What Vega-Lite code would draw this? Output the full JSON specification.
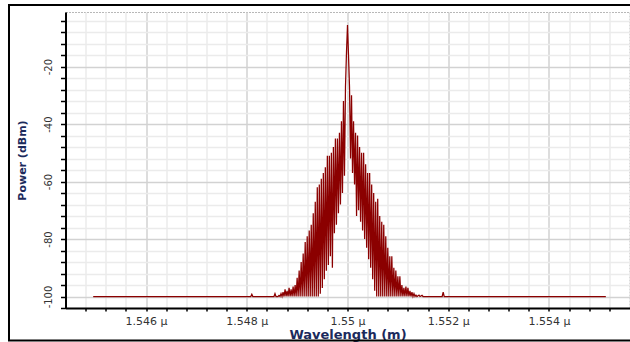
{
  "$schema": "https://vega.github.io/schema/vega-lite/v6.json",
  "width": 564,
  "height": 296,
  "autosize": "none",
  "padding": {"left": 65.5, "top": 12, "right": 0.5, "bottom": 34},
  "background": "white",
  "config": {
    "view": {"stroke": "#b8b8b8", "strokeDash": [2, 1], "strokeWidth": 1},
    "font": "DejaVu Sans"
  },
  "data": {
    "values": [
      {"w": 1.54495, "p": -100}, {"w": 1.54808, "p": -100}, {"w": 1.5481, "p": -99.2}, {"w": 1.54812, "p": -100},
      {"w": 1.54854, "p": -100}, {"w": 1.54856, "p": -99}, {"w": 1.54858, "p": -100},
      {"w": 1.54862, "p": -100}, {"w": 1.54864, "p": -99.6}, {"w": 1.54866, "p": -100},
      {"w": 1.54868, "p": -99}, {"w": 1.5487, "p": -100}, {"w": 1.54872, "p": -98.5}, {"w": 1.54874, "p": -100},
      {"w": 1.54876, "p": -97.5}, {"w": 1.54878, "p": -100}, {"w": 1.5488, "p": -98}, {"w": 1.54882, "p": -100},
      {"w": 1.54884, "p": -97}, {"w": 1.54886, "p": -100}, {"w": 1.54888, "p": -97.5}, {"w": 1.5489, "p": -100},
      {"w": 1.54892, "p": -96.5}, {"w": 1.54894, "p": -100}, {"w": 1.54896, "p": -96}, {"w": 1.54898, "p": -100},
      {"w": 1.549, "p": -93.5}, {"w": 1.54902, "p": -100}, {"w": 1.54904, "p": -91}, {"w": 1.54906, "p": -100},
      {"w": 1.54908, "p": -88}, {"w": 1.5491, "p": -100}, {"w": 1.54912, "p": -85}, {"w": 1.54914, "p": -100},
      {"w": 1.54916, "p": -81}, {"w": 1.54918, "p": -100}, {"w": 1.5492, "p": -79}, {"w": 1.54922, "p": -100},
      {"w": 1.54924, "p": -77}, {"w": 1.54926, "p": -100}, {"w": 1.54928, "p": -75}, {"w": 1.5493, "p": -100},
      {"w": 1.54932, "p": -71}, {"w": 1.54934, "p": -100}, {"w": 1.54936, "p": -67}, {"w": 1.54938, "p": -100},
      {"w": 1.5494, "p": -62}, {"w": 1.54942, "p": -100}, {"w": 1.54944, "p": -61}, {"w": 1.54946, "p": -99},
      {"w": 1.54948, "p": -59}, {"w": 1.5495, "p": -97}, {"w": 1.54952, "p": -57}, {"w": 1.54954, "p": -94},
      {"w": 1.54956, "p": -55}, {"w": 1.54958, "p": -91}, {"w": 1.5496, "p": -51}, {"w": 1.54962, "p": -89},
      {"w": 1.54964, "p": -51}, {"w": 1.54966, "p": -86}, {"w": 1.54968, "p": -50}, {"w": 1.5497, "p": -90},
      {"w": 1.54972, "p": -48}, {"w": 1.54974, "p": -78}, {"w": 1.54976, "p": -45}, {"w": 1.54978, "p": -75},
      {"w": 1.5498, "p": -45}, {"w": 1.54982, "p": -71}, {"w": 1.54984, "p": -43}, {"w": 1.54986, "p": -68},
      {"w": 1.54988, "p": -39}, {"w": 1.5499, "p": -64}, {"w": 1.54992, "p": -32}, {"w": 1.54994, "p": -58},
      {"w": 1.54996, "p": -27}, {"w": 1.54998, "p": -15}, {"w": 1.55, "p": -5.5}, {"w": 1.55002, "p": -16},
      {"w": 1.55004, "p": -27}, {"w": 1.55006, "p": -52}, {"w": 1.55008, "p": -30}, {"w": 1.5501, "p": -57},
      {"w": 1.55012, "p": -39}, {"w": 1.55014, "p": -61}, {"w": 1.55016, "p": -43}, {"w": 1.55018, "p": -72},
      {"w": 1.5502, "p": -44}, {"w": 1.55022, "p": -70}, {"w": 1.55024, "p": -48}, {"w": 1.55026, "p": -74},
      {"w": 1.55028, "p": -50}, {"w": 1.5503, "p": -77}, {"w": 1.55032, "p": -50}, {"w": 1.55034, "p": -80},
      {"w": 1.55036, "p": -54}, {"w": 1.55038, "p": -83}, {"w": 1.5504, "p": -57}, {"w": 1.55042, "p": -87},
      {"w": 1.55044, "p": -57}, {"w": 1.55046, "p": -90}, {"w": 1.55048, "p": -61}, {"w": 1.5505, "p": -94},
      {"w": 1.55052, "p": -64}, {"w": 1.55054, "p": -98}, {"w": 1.55056, "p": -67}, {"w": 1.55058, "p": -100},
      {"w": 1.5506, "p": -66}, {"w": 1.55062, "p": -100}, {"w": 1.55064, "p": -72}, {"w": 1.55066, "p": -100},
      {"w": 1.55068, "p": -74}, {"w": 1.5507, "p": -100}, {"w": 1.55072, "p": -75}, {"w": 1.55074, "p": -100},
      {"w": 1.55076, "p": -79}, {"w": 1.55078, "p": -100}, {"w": 1.5508, "p": -83}, {"w": 1.55082, "p": -100},
      {"w": 1.55084, "p": -86}, {"w": 1.55086, "p": -100}, {"w": 1.55088, "p": -86}, {"w": 1.5509, "p": -100},
      {"w": 1.55092, "p": -90}, {"w": 1.55094, "p": -100}, {"w": 1.55096, "p": -91}, {"w": 1.55098, "p": -100},
      {"w": 1.551, "p": -93}, {"w": 1.55102, "p": -100}, {"w": 1.55104, "p": -93}, {"w": 1.55106, "p": -100},
      {"w": 1.55108, "p": -96}, {"w": 1.5511, "p": -100}, {"w": 1.55112, "p": -97}, {"w": 1.55114, "p": -100},
      {"w": 1.55116, "p": -96.5}, {"w": 1.55118, "p": -100}, {"w": 1.5512, "p": -97}, {"w": 1.55122, "p": -100},
      {"w": 1.55124, "p": -98}, {"w": 1.55126, "p": -100}, {"w": 1.55128, "p": -98.5}, {"w": 1.5513, "p": -100},
      {"w": 1.55132, "p": -99}, {"w": 1.55134, "p": -100}, {"w": 1.55136, "p": -99.5}, {"w": 1.55138, "p": -100},
      {"w": 1.55142, "p": -99.5}, {"w": 1.55144, "p": -100}, {"w": 1.55148, "p": -99.6}, {"w": 1.5515, "p": -100},
      {"w": 1.55188, "p": -100}, {"w": 1.5519, "p": -98.5}, {"w": 1.55192, "p": -100},
      {"w": 1.55513, "p": -100}
    ]
  },
  "layer": [
    {
      "mark": {"type": "line", "color": "#8b0000", "strokeWidth": 1.25, "clip": true},
      "encoding": {
        "x": {
          "field": "w", "type": "quantitative",
          "scale": {"domain": [1.5444, 1.5556], "nice": false, "zero": false},
          "axis": {
            "values": [1.5448, 1.5452, 1.5456, 1.546, 1.5464, 1.5468, 1.5472, 1.5476, 1.548, 1.5484, 1.5488, 1.5492, 1.5496, 1.55, 1.5504, 1.5508, 1.5512, 1.5516, 1.552, 1.5524, 1.5528, 1.5532, 1.5536, 1.554, 1.5544, 1.5548, 1.5552],
            "tickCount": 200,
            "title": "Wavelength (m)",
            "titleFont": "DejaVu Sans", "titleFontSize": 13, "titleFontWeight": "bold", "titleColor": "#1b2a5c", "titlePadding": 2,
            "labelExpr": "indexof([1.546,1.548,1.55,1.552,1.554], datum.value) >= 0 ? format(datum.value, '.4~f') + ' µ' : ''",
            "labelFont": "DejaVu Sans", "labelFontSize": 11, "labelColor": "#333333", "labelPadding": 4,
            "labelFlush": false, "labelOverlap": false,
            "domainColor": "black", "domainWidth": 2,
            "tickColor": "black", "tickSize": 3, "tickWidth": 1.5,
            "grid": true,
            "gridColor": {"condition": {"test": "indexof([1.546,1.548,1.55,1.552,1.554], datum.value) >= 0", "value": "#d2d2d2"}, "value": "#ebebeb"},
            "gridWidth": 1.5
          }
        },
        "y": {
          "field": "p", "type": "quantitative",
          "scale": {"domain": [-104, -1], "nice": false, "zero": false},
          "axis": {
            "values": [-104, -100, -96, -92, -88, -84, -80, -76, -72, -68, -64, -60, -56, -52, -48, -44, -40, -36, -32, -28, -24, -20, -16, -12, -8, -4],
            "tickCount": 200,
            "title": "Power (dBm)",
            "titleFont": "DejaVu Sans", "titleFontSize": 11, "titleFontWeight": "bold", "titleColor": "#1b2a5c", "titlePadding": 16,
            "labelExpr": "datum.value % 20 == 0 ? '-' + abs(datum.value) : ''",
            "labelAngle": 270, "labelAlign": "center", "labelBaseline": "bottom",
            "labelFont": "DejaVu Sans", "labelFontSize": 10, "labelColor": "#333333", "labelPadding": 7,
            "labelOverlap": false, "labelFlush": false,
            "domainColor": "black", "domainWidth": 2,
            "tickColor": "black", "tickSize": 5, "tickWidth": 1.5,
            "grid": true,
            "gridColor": {"condition": {"test": "datum.value % 20 == 0", "value": "#d2d2d2"}, "value": "#ebebeb"},
            "gridWidth": 1.5
          }
        }
      }
    },
    {
      "data": {"values": [{"frame": "outer"}]},
      "mark": {"type": "rect", "fillOpacity": 0, "stroke": "black", "strokeWidth": 2, "clip": false},
      "encoding": {
        "x": {"datum": 1.543278, "type": "quantitative"},
        "x2": {"datum": 1.5558},
        "y": {"datum": 1.44, "type": "quantitative"},
        "y2": {"datum": -115.3}
      }
    }
  ]
}
